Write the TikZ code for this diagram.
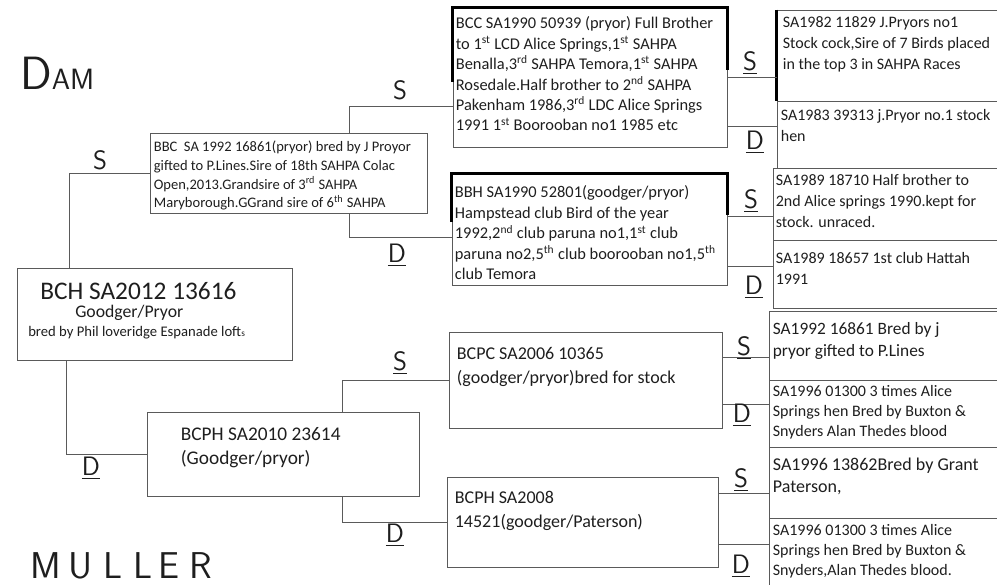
\documentclass[tikz,border=0pt]{standalone}
\usepackage{fontspec}
\setmainfont{Carlito}
\usetikzlibrary{positioning, fit, calc}
\definecolor{inkgray}{RGB}{90,90,90}
\definecolor{inkdark}{RGB}{30,30,30}

\begin{document}
\begin{tikzpicture}[x=0.75pt, y=-0.75pt,
    box/.style={draw=inkgray, line width=0.6pt, inner sep=0pt},
    txt/.style={anchor=north west, align=left, inner sep=0pt, text=inkdark},
    link/.style={draw=inkgray, line width=0.6pt},
    heavy/.style={draw=black, line width=2.2pt},
    hand/.style={font=\sffamily\fontsize{20pt}{20pt}\selectfont, text=inkdark}]
    \useasboundingbox (0,0) rectangle (997,585);

    % Boxes of the pedigree
    \node[box, fit={(17,268) (292,360)}] (bch) {};
    \node[box, fit={(150,133) (427,213)}] (bbc) {};
    \node[box, fit={(147,412) (419,496)}] (bcph) {};
    \node[box, fit={(453,8) (727,147)}] (bcc) {};
    \node[box, fit={(452,174) (727,285)}] (bbh) {};
    \node[box, fit={(449,332) (722,428)}] (bcpc) {};
    \node[box, fit={(447,477) (718,567)}] (bcph2) {};
    \foreach \n/\x/\t/\b in {r1/777/10/101, r2/777/101/168, r3/773/168/240, r4/773/240/308,
                             r5/769/311/380, r6/769/380/447, r7/769/447/518, r8/769/518/592}
        \node[box, fit={(\x,\t) (1003,\b)}] (\n) {};

    % Heavy strokes
    \draw[heavy] ($(bcc.north west)+(0,74)$) -- (bcc.north west) -- (bcc.north east) -- ($(bcc.north east)+(0,62)$);
    \draw[heavy] ($(bbh.north west)+(0,48)$) -- (bbh.north west) -- (bbh.north east) -- ($(bbh.north east)+(0,41)$);
    \draw[heavy] (r1.north west) -- (r1.south west);

    % Texts
    \node[anchor=base west, inner sep=0pt, text=inkdark, font=\fontsize{19pt}{22pt}\selectfont] (bch-id) at (40,299) {BCH SA2012 13616};
    \node[anchor=base west, inner sep=0pt, text=inkdark, font=\fontsize{13.3pt}{16pt}\selectfont] (bch-own) at (75,317) {Goodger/Pryor};
    \node[anchor=base west, inner sep=0pt, text=inkdark, font=\fontsize{11pt}{14pt}\selectfont] (bch-bred) at (28,336) {bred by Phil loveridge Espanade loft{\fontsize{7pt}{8pt}\selectfont s}};

    \node[txt, font=\fontsize{10.9pt}{13.9pt}\selectfont] (bbc-txt) at ($(bbc.north west)+(4,8.5)$)
        {BBC\ \ SA 1992 16861(pryor) bred by J Proyor\\gifted to P.Lines.Sire of 18th SAHPA Colac\\Open,2013.Grandsire of 3\textsuperscript{rd} SAHPA\\Maryborough.GGrand sire of 6\textsuperscript{th} SAHPA};
    \node[txt, font=\fontsize{12.3pt}{15.3pt}\selectfont] (bcc-txt) at ($(bcc.north west)+(3,9)$)
        {BCC SA1990 50939 (pryor) Full Brother\\to 1\textsuperscript{st} LCD Alice Springs,1\textsuperscript{st} SAHPA\\Benalla,3\textsuperscript{rd} SAHPA Temora,1\textsuperscript{st} SAHPA\\Rosedale.Half brother to 2\textsuperscript{nd} SAHPA\\Pakenham 1986,3\textsuperscript{rd} LDC Alice Springs\\1991 1\textsuperscript{st} Boorooban no1 1985 etc};
    \node[txt, font=\fontsize{12.3pt}{15.4pt}\selectfont] (bbh-txt) at ($(bbh.north west)+(3,12)$)
        {BBH SA1990 52801(goodger/pryor)\\Hampstead club Bird of the year\\1992,2\textsuperscript{nd} club paruna no1,1\textsuperscript{st} club\\paruna no2,5\textsuperscript{th} club boorooban no1,5\textsuperscript{th}\\club Temora};
    \node[txt, font=\fontsize{14.5pt}{18pt}\selectfont] (bcph-txt) at ($(bcph.north west)+(34,15.5)$)
        {BCPH SA2010 23614\\(Goodger/pryor)};
    \node[txt, font=\fontsize{13.5pt}{18pt}\selectfont] (bcpc-txt) at ($(bcpc.north west)+(8,15.5)$)
        {BCPC SA2006 10365\\(goodger/pryor)bred for stock};
    \node[txt, font=\fontsize{13.5pt}{18pt}\selectfont] (bcph2-txt) at ($(bcph2.north west)+(8,14.5)$)
        {BCPH SA2008\\14521(goodger/Paterson)};

    \node[txt, font=\fontsize{12pt}{15.75pt}\selectfont] (r1-txt) at ($(r1.north west)+(6,7)$)
        {SA1982 11829 J.Pryors no1\\Stock cock,Sire of 7 Birds placed\\in the top 3 in SAHPA Races};
    \node[txt, font=\fontsize{12pt}{15.75pt}\selectfont] (r2-txt) at ($(r2.north west)+(4,9)$)
        {SA1983 39313 j.Pryor no.1 stock\\hen};
    \node[txt, font=\fontsize{12pt}{15.5pt}\selectfont] (r3-txt) at ($(r3.north west)+(3,7)$)
        {SA1989 18710 Half brother to\\2nd Alice springs 1990.kept for\\stock. unraced.};
    \node[txt, font=\fontsize{12pt}{15.5pt}\selectfont] (r4-txt) at ($(r4.north west)+(3,13)$)
        {SA1989 18657 1st club Hattah\\1991};
    \node[txt, font=\fontsize{13pt}{16.5pt}\selectfont] (r5-txt) at ($(r5.north west)+(4,12)$)
        {SA1992 16861 Bred by j\\pryor gifted to P.Lines};
    \node[txt, font=\fontsize{12pt}{15pt}\selectfont] (r6-txt) at ($(r6.north west)+(4,6)$)
        {SA1996 01300 3 times Alice\\Springs hen Bred by Buxton \&\\Snyders Alan Thedes blood};
    \node[txt, font=\fontsize{13.5pt}{16.5pt}\selectfont] (r7-txt) at ($(r7.north west)+(4,11)$)
        {SA1996 13862Bred by Grant\\Paterson,};
    \node[txt, font=\fontsize{12pt}{15pt}\selectfont] (r8-txt) at ($(r8.north west)+(4,7)$)
        {SA1996 01300 3 times Alice\\Springs hen Bred by Buxton \&\\Snyders,Alan Thedes blood.};

    % Connectors
    \draw[link] ($(bch.north west)+(53,0)$) |- (bbc.west);
    \draw[link] ($(bch.south west)+(50,0)$) |- (bcph.west);
    \draw[link] ($(bbc.north west)+(200,0)$) |- ($(bcc.north west)+(0,99)$);
    \draw[link] ($(bbc.south west)+(200,0)$) |- ($(bbh.north west)+(0,64)$);
    \draw[link] ($(bcph.north west)+(196,0)$) |- (bcpc.west);
    \draw[link] ($(bcph.south west)+(196,0)$) |- (bcph2.west);
    \foreach \src/\dy/\dst in {bcc/70/r1, bcc/119/r2, bbh/43/r3, bbh/93/r4,
                               bcpc/26/r5, bcpc/73/r6, bcph2/17/r7, bcph2/68/r8}
        \draw[link] ($(\src.north east)+(0,\dy)$) coordinate (p) -- (p -| \dst.west);

    % Sire / dam marks
    \foreach \n/\x/\y/\t in {sA/100/160/S, dA/91/468/\underline{D}, sB/400/90/S, dB/397/255/\underline{D},
                             sC/400/363/\underline{S}, dC/395/535/\underline{D}, sD/750/63/\underline{S},
                             dD/755/142/\underline{D}, sE/751/201/\underline{S}, dE/754/287/\underline{D},
                             sF/744/348/\underline{S}, dF/742/415/\underline{D}, sG/741/480/\underline{S},
                             dG/741/566/\underline{D}}
        \node[hand] (\n) at (\x,\y) {\t};

    % Handwritten headings
    \node[anchor=base west, inner sep=0pt, text=inkdark, font=\sffamily] (dam) at (20,90)
        {{\fontsize{35pt}{35pt}\selectfont D}{\fontsize{22pt}{22pt}\selectfont AM}};
    \node[anchor=base west, inner sep=0pt, text=inkdark, font=\sffamily\fontsize{28pt}{28pt}\selectfont] (muller) at (30,578)
        {M\kern6pt U\kern8pt L\kern8pt L\kern5pt E\kern7pt R};
\end{tikzpicture}
\end{document}
